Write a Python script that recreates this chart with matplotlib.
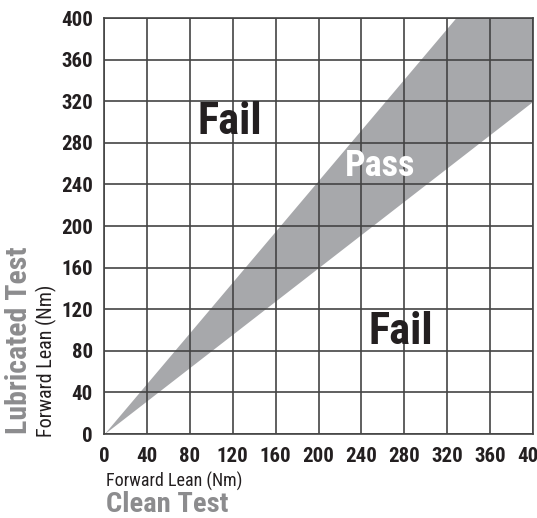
import matplotlib
matplotlib.use('Agg')
import matplotlib.pyplot as plt

# Pass band limits: lubricated / clean ratio
upper_ratio = 1.22
lower_ratio = 0.80
ticks = [0, 40, 80, 120, 160, 200, 240, 280, 320, 360, 400]
max_val = 400

COND = ['Roboto Condensed', 'DejaVu Sans']
GRAY = '#8c8c8e'
DARK = '#231f20'

fig = plt.figure(figsize=(5.37, 5.18), dpi=100)
ax = fig.add_axes([104 / 537, 1 - 434 / 518, 429 / 537, 416 / 518])

# band, upper edge clipped at the top of the axes
xu = [0, max_val / upper_ratio, max_val]
ax.fill_between(xu, [v * lower_ratio for v in xu], [min(v * upper_ratio, max_val) for v in xu],
                color='#a7a8ab', lw=0, zorder=1)

ax.set_xlim(0, max_val)
ax.set_ylim(0, max_val)
ax.set_xticks(ticks)
ax.set_yticks(ticks)
ax.grid(True, color='#444444', lw=1.2, zorder=2)
ax.set_axisbelow(False)
for s in ax.spines.values():
    s.set_color('#444444')
    s.set_linewidth(1.2)
ax.tick_params(axis='x', length=0, pad=9)
ax.tick_params(axis='y', length=0, pad=8)
for lab in ax.get_xticklabels() + ax.get_yticklabels():
    lab.set_family(COND)
    lab.set_fontweight('bold')
    lab.set_fontsize(15)
    lab.set_color(DARK)

ax.text(117, 300, 'Fail', family=COND, fontweight='bold', fontsize=32, color=DARK,
        ha='center', va='center', zorder=3)
ax.text(257, 258, 'Pass', family=COND, fontweight='bold', fontsize=26, color='white',
        ha='center', va='center', zorder=3)
ax.text(277, 98, 'Fail', family=COND, fontweight='bold', fontsize=32, color=DARK,
        ha='center', va='center', zorder=3)

fig.text(106 / 537, 1 - 481 / 518, 'Forward Lean (Nm)', family=COND, fontsize=13,
         color=DARK, ha='left', va='center')
fig.text(106 / 537, 1 - 505 / 518, 'Clean Test', family=COND, fontweight='bold', fontsize=20.5,
         color=GRAY, ha='left', va='center')
fig.text(46 / 537, 1 - 437 / 518, 'Forward Lean (Nm)', family=COND, fontsize=14.5,
         color=DARK, ha='center', va='bottom', rotation=90)
fig.text(19 / 537, 1 - 434 / 518, 'Lubricated Test', family=COND, fontweight='bold', fontsize=21.5,
         color=GRAY, ha='center', va='bottom', rotation=90)

fig.savefig('out.png', dpi=100)
